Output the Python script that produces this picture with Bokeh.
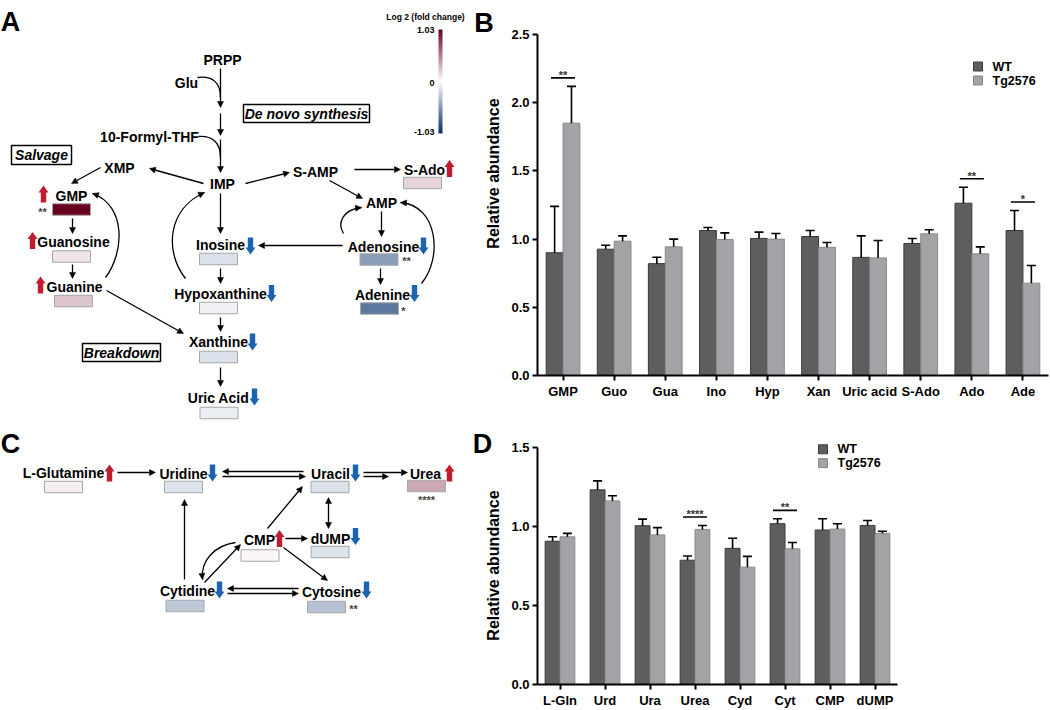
import numpy as np
from bokeh.plotting import figure
from bokeh.layouts import row, column
from bokeh.models import (ColumnDataSource, Range1d, Arrow, NormalHead, FixedTicker,
                          NumeralTickFormatter, LinearColorMapper, ColorBar)
from bokeh.transform import dodge
from bokeh.core.properties import value
from bokeh.embed import file_html
from bokeh.resources import INLINE

# ---------------- data ----------------
purine_cats = ["GMP", "Guo", "Gua", "Ino", "Hyp", "Xan", "Uric acid", "S-Ado", "Ado", "Ade"]
purine_wt = [0.90, 0.926, 0.82, 1.063, 1.005, 1.019, 0.866, 0.968, 1.263, 1.063]
purine_wt_err = [1.24, 0.955, 0.867, 1.085, 1.051, 1.063, 1.024, 1.004, 1.38, 1.21]
purine_tg = [1.85, 0.985, 0.943, 0.997, 1.0, 0.94, 0.862, 1.039, 0.892, 0.677]
purine_tg_err = [2.12, 1.024, 1.0, 1.046, 1.041, 0.975, 0.99, 1.068, 0.943, 0.806]
purine_sig_cats = ["GMP", "Ado", "Ade"]
purine_sig_marks = ["**", "**", "*"]
# log2 fold change (Tg2576 / WT) shown by the pathway boxes, same order as purine_cats
purine_log2fc = [1.03, 0.11, 0.24, -0.145, -0.072, -0.15, -0.082, 0.17, -0.49, -0.67]

pyr_cats = ["L-Gln", "Urd", "Ura", "Urea", "Cyd", "Cyt", "CMP", "dUMP"]
pyr_wt = [0.906, 1.231, 1.004, 0.786, 0.861, 1.017, 0.977, 1.006]
pyr_wt_err = [0.934, 1.288, 1.046, 0.8125, 0.925, 1.048, 1.048, 1.0375]
pyr_tg = [0.934, 1.161, 0.946, 0.981, 0.742, 0.858, 0.983, 0.956]
pyr_tg_err = [0.956, 1.194, 0.992, 1.006, 0.81, 0.898, 1.017, 0.969]
pyr_sig_cats = ["Urea", "Cyt"]
pyr_sig_marks = ["****", "**"]
pyr_log2fc = [0.07, -0.14, -0.15, 0.35, -0.27, -0.30, 0.04, -0.14]

series_names = ["WT", "Tg2576"]
y_title = "Relative abundance"
FC_LIMIT = 1.03
colorbar_title = "Log 2 (fold change)"

# ---------------- styling ----------------
FONT = "Liberation Sans"
WT_FILL, WT_LINE = "#5e5e5e", "#3a3a3a"
TG_FILL, TG_LINE = "#a3a3a7", "#8a8a8a"
UP_COL, DOWN_COL = "#bf1d2d", "#1d63ae"


def make_palette(n=256):
    lo, mid, hi = (8, 48, 107), (255, 255, 255), (103, 0, 31)
    pal = []
    for i in range(n):
        t = i / (n - 1)
        a, b, s = (lo, mid, t / 0.5) if t < 0.5 else (mid, hi, (t - 0.5) / 0.5)
        c = tuple(int(round(a[k] + (b[k] - a[k]) * s)) for k in range(3))
        pal.append("#%02x%02x%02x" % c)
    return pal


mapper = LinearColorMapper(palette=make_palette(), low=-FC_LIMIT, high=FC_LIMIT)


# ---------------- diagram helpers ----------------
def diagram_fig(w, h, xr, yr):
    p = figure(width=w, height=h, x_range=Range1d(*xr), y_range=Range1d(*yr),
               output_backend="svg", toolbar_location=None,
               x_axis_location=None, y_axis_location=None, min_border=0)
    p.grid.visible = False
    p.outline_line_color = None
    return p


def texts(p, items, size="14px", style="bold", color="black", align="center",
          baseline="middle", y_offset=0, angle=0.0):
    src = ColumnDataSource(dict(t=[i[0] for i in items], x=[i[1] for i in items],
                                y=[i[2] for i in items]))
    p.text(x="x", y="y", text="t", source=src, text_font=value(FONT),
           text_font_size=size, text_font_style=style, text_color=color,
           text_align=align, text_baseline=baseline, y_offset=y_offset, angle=angle)


def head():
    return NormalHead(size=6, fill_color="black", line_color="black", line_width=0.5)


def arrows(p, segs, double=False):
    for x0, y0, x1, y1 in segs:
        p.add_layout(Arrow(end=head(), start=head() if double else None,
                           x_start=x0, y_start=y0, x_end=x1, y_end=y1,
                           line_width=1.3, line_color="black"))


def curves(p, segs, with_head=True):
    for (x0, y0, cx0, cy0, cx1, cy1, x1, y1) in segs:
        p.bezier(x0=[x0], y0=[y0], cx0=[cx0], cy0=[cy0], cx1=[cx1], cy1=[cy1],
                 x1=[x1], y1=[y1], line_width=1.3, line_color="black")
        if with_head:
            p.add_layout(Arrow(end=head(), x_start=x1 - (x1 - cx1) * 0.08,
                               y_start=y1 - (y1 - cy1) * 0.08, x_end=x1, y_end=y1,
                               line_width=1.3, line_color="black"))


def boxed(p, items):
    p.quad(left=[i[1] for i in items], right=[i[3] for i in items],
           top=[i[2] for i in items], bottom=[i[4] for i in items],
           fill_color="white", line_color="black", line_width=1.5)
    texts(p, [(i[0], (i[1] + i[3]) / 2, (i[2] + i[4]) / 2) for i in items],
          style="bold italic")


def nodes(p, layout, cats, log2fc, sig_cats, sig_marks, star_pos):
    fc = dict(zip(cats, log2fc))
    src = ColumnDataSource(dict(
        label=[n[1] for n in layout], lx=[n[2] for n in layout], ly=[n[3] for n in layout],
        bx=[n[4] for n in layout], by=[n[5] for n in layout],
        fc=[float(fc[n[0]]) for n in layout]))
    p.rect(x="bx", y="by", width=38, height=11.5, source=src,
           fill_color={"field": "fc", "transform": mapper},
           line_color="#a6a6a6", line_width=1)
    p.text(x="lx", y="ly", text="label", source=src, text_font=value(FONT),
           text_font_size="14px", text_font_style="bold", text_align="center",
           text_baseline="middle")
    xs, ys, cols = [], [], []
    hl, hw, sw, half = 7.0, 5.0, 2.7, 8.5
    for n in layout:
        cx, cy = n[6], n[7]
        up = fc[n[0]] > 0
        tip, base = (cy - half, cy + half) if up else (cy + half, cy - half)
        neck = tip + (hl if up else -hl)
        xs.append([cx, cx + hw, cx + sw, cx + sw, cx - sw, cx - sw, cx - hw])
        ys.append([tip, neck, neck, base, base, neck, neck])
        cols.append(UP_COL if up else DOWN_COL)
    p.patches(xs, ys, fill_color=cols, line_color=None)
    marks = dict(zip(sig_cats, sig_marks))
    texts(p, [(marks[c], star_pos[c][0], star_pos[c][1]) for c in star_pos],
          size="11px", color="#444444", baseline="alphabetic", y_offset=2)


# ---------------- panel A (+ letter / y title of B) ----------------
pA = diagram_fig(503, 420, (0, 503), (420, 0))
texts(pA, [("A", 10, 21), ("B", 483.5, 22)], size="27px", baseline="alphabetic")
texts(pA, [(y_title, 493, 173)], size="16px", angle=np.pi / 2)
texts(pA, [("PRPP", 222, 59), ("Glu", 186, 82), ("10-Formyl-THF", 149, 136),
           ("XMP", 119, 167), ("IMP", 222, 183), ("S-AMP", 315, 171), ("AMP", 381, 202)])
boxed(pA, [("De novo synthesis", 243, 104, 369, 122), ("Salvage", 11, 145, 71, 164),
           ("Breakdown", 82, 343, 160, 361)])
arrows(pA, [(220, 68, 220, 107), (220, 113, 220, 135), (220, 139, 220, 172),
            (203, 183, 149, 168), (100, 167, 71, 183), (72, 218, 72, 233),
            (72, 264, 72, 278), (106, 290, 183, 333), (245, 183, 289, 172),
            (354, 169, 400, 169), (329, 180, 362, 198), (220, 193, 220, 233),
            (342, 245, 258, 245), (220, 268, 220, 283), (220, 317, 220, 331),
            (220, 367, 220, 386), (381, 211, 381, 236), (380, 268, 380, 284)])
curves(pA, [(197, 77, 212, 75, 220, 82, 220, 97), (198, 136, 212, 135, 220, 142, 220, 157)],
       with_head=False)
curves(pA, [(105, 277, 124, 252, 126, 205, 92, 193), (185, 278, 163, 250, 168, 208, 204, 192),
            (343, 233, 336, 222, 343, 209, 361, 207), (421, 283, 442, 258, 438, 205, 400, 202)])
A_LAYOUT = [
    ("GMP", "GMP", 71, 195, 71, 209, 43, 193.5),
    ("Guo", "Guanosine", 73, 241, 71, 256, 32, 240),
    ("Gua", "Guanine", 74, 286, 73, 300.5, 40, 284.5),
    ("Ino", "Inosine", 220, 244, 218, 258.5, 250, 245.5),
    ("Hyp", "Hypoxanthine", 220, 293, 218, 307.5, 271, 293),
    ("Xan", "Xanthine", 218, 341, 218, 356.5, 252, 341.5),
    ("Uric acid", "Uric Acid", 218, 397, 218.5, 412.5, 254, 396.5),
    ("S-Ado", "S-Ado", 424, 169, 422, 182.5, 449, 168),
    ("Ado", "Adenosine", 383, 246, 378.5, 259, 423, 245.5),
    ("Ade", "Adenine", 382, 294, 379, 308, 414, 293),
]
nodes(pA, A_LAYOUT, purine_cats, purine_log2fc, purine_sig_cats, purine_sig_marks,
      {"GMP": (42, 209), "Ado": (406, 258), "Ade": (403, 308)})
pA.add_layout(ColorBar(color_mapper=mapper, orientation="vertical",
                       location=(438, 287), width=4, height=104, padding=0, margin=0,
                       ticker=FixedTicker(ticks=[]), major_label_text_alpha=0,
                       major_tick_line_color=None, minor_tick_line_color=None,
                       bar_line_color=None, border_line_color=None,
                       background_fill_alpha=0, title=None))
texts(pA, [(colorbar_title, 425, 16)], size="8.5px")
texts(pA, [(f"{FC_LIMIT:.2f}", 434, 29), ("0", 434, 82), (f"{-FC_LIMIT:.2f}", 434, 131)],
      size="9px", align="right")

# ---------------- panel C (+ letter / y title of D) ----------------
pC = diagram_fig(503, 290, (0, 503), (710, 420))
texts(pC, [("C", 10, 443), ("D", 482, 443)], size="27px", baseline="alphabetic")
texts(pC, [(y_title, 493, 565)], size="16px", angle=np.pi / 2)
arrows(pC, [(117, 472, 155, 472), (303, 471, 222, 471), (222, 476, 305, 476),
            (363, 472, 407, 472), (363, 476, 388, 476), (285, 538, 307, 538),
            (267, 528, 302, 486), (283, 547, 327, 580), (204, 582, 240, 544),
            (184, 579, 184, 499), (298, 588, 227, 588), (227, 593, 298, 593)])
arrows(pC, [(328, 497, 328, 528)], double=True)
curves(pC, [(235, 542, 214, 545, 200, 560, 202, 579)])
C_LAYOUT = [
    ("L-Gln", "L-Glutamine", 63, 472, 63, 486.5, 109, 472.5),
    ("Urd", "Uridine", 183, 473, 183, 486.5, 212, 472.5),
    ("Ura", "Uracil", 330, 473, 329.5, 486.5, 355, 472.5),
    ("Urea", "Urea", 425, 473, 426, 485.5, 449, 472.5),
    ("CMP", "CMP", 259, 539, 259.5, 555, 279, 538),
    ("dUMP", "dUMP", 330, 538, 329.5, 551.5, 355, 536),
    ("Cyd", "Cytidine", 187, 590, 184.5, 605.5, 219, 589.5),
    ("Cyt", "Cytosine", 331, 591, 326, 606.5, 366, 589.5),
]
nodes(pC, C_LAYOUT, pyr_cats, pyr_log2fc, pyr_sig_cats, pyr_sig_marks,
      {"Urea": (426, 497), "Cyt": (353, 606)})


# ---------------- bar panels ----------------
def bar_panel(cats, wt, wt_err, tg, tg_err, sig_cats, sig_marks, y_top, y_end, ticks,
              width, height, borders, px_cat, legend_px):
    bl, br, bt, bb = borders
    frame_w, frame_h = width - bl - br, height - bt - bb
    n = len(cats)
    p = figure(x_range=Range1d(0, frame_w / px_cat), y_range=Range1d(0, y_end),
               width=width, height=height, output_backend="svg", toolbar_location=None,
               min_border_left=bl, min_border_right=br, min_border_top=bt,
               min_border_bottom=bb)
    px_y = frame_h / y_end
    pos = [i + 0.5 for i in range(n)]
    bw = 0.33
    src = ColumnDataSource(dict(x=pos, cat=list(cats), wt=wt, wt_err=wt_err, tg=tg,
                                tg_err=tg_err))
    p.vbar(x=dodge("x", -bw / 2), top="wt", width=bw, source=src,
           fill_color=WT_FILL, line_color=WT_LINE, line_width=1)
    p.vbar(x=dodge("x", bw / 2), top="tg", width=bw, source=src,
           fill_color=TG_FILL, line_color=TG_LINE, line_width=1)
    cap = 4.5 / px_cat
    for off, lo, hi in ((-bw / 2, "wt", "wt_err"), (bw / 2, "tg", "tg_err")):
        p.segment(x0=dodge("x", off), y0=lo, x1=dodge("x", off), y1=hi, source=src,
                  line_color="black", line_width=1.6)
        p.segment(x0=dodge("x", off - cap), y0=hi, x1=dodge("x", off + cap), y1=hi,
                  source=src, line_color="black", line_width=1.6)
    idx = [list(cats).index(c) for c in sig_cats]
    ssrc = ColumnDataSource(dict(
        x=[pos[i] for i in idx],
        y=[max(wt_err[i], tg_err[i]) + 8.5 / px_y for i in idx],
        mark=list(sig_marks)))
    half = 12 / px_cat
    p.segment(x0=dodge("x", -half), y0="y", x1=dodge("x", half), y1="y", source=ssrc,
              line_color="black", line_width=1.6)
    p.text(x="x", y="y", text="mark", source=ssrc, text_font=value(FONT),
           text_font_size="11px", text_font_style="bold", text_color="#333333",
           text_align="center", text_baseline="alphabetic", y_offset=-3)

    # legend drawn as glyphs inside the frame
    lx = legend_px[0] / px_cat
    ly0 = y_top - legend_px[1] / px_y
    ly1 = y_top - (legend_px[1] + 14) / px_y
    p.scatter(x=[lx, lx], y=[ly0, ly1], marker="square", size=9,
              fill_color=[WT_FILL, TG_FILL], line_color=[WT_LINE, TG_LINE], line_width=1)
    p.text(x=[lx + 14.5 / px_cat] * 2, y=[ly0, ly1], text=series_names,
           text_font=value(FONT), text_font_size="12.5px", text_font_style="bold",
           text_align="left", text_baseline="middle")

    p.grid.visible = False
    p.outline_line_color = None
    for ax in (p.xaxis[0], p.yaxis[0]):
        ax.axis_line_width = 2
        ax.axis_line_color = "black"
        ax.major_tick_line_width = 2
        ax.major_tick_out = 5
        ax.major_tick_in = 0
        ax.minor_tick_line_color = None
        ax.major_label_text_font = FONT
        ax.major_label_text_font_style = "bold"
        ax.major_label_text_font_size = "13px"
        ax.major_label_text_color = "black"
        ax.major_label_standoff = 3
    p.xaxis.ticker = FixedTicker(ticks=pos)
    p.xaxis.major_label_overrides = {x: c for x, c in zip(pos, cats)}
    p.xaxis.bounds = (0, n)
    p.yaxis.ticker = FixedTicker(ticks=ticks)
    p.yaxis.formatter = NumeralTickFormatter(format="0.0")
    p.yaxis.bounds = (0, y_top)
    return p


pB = bar_panel(purine_cats, purine_wt, purine_wt_err, purine_tg, purine_tg_err,
               purine_sig_cats, purine_sig_marks, 2.5, 2.5, [0, 0.5, 1.0, 1.5, 2.0, 2.5],
               547, 420, (34, 2, 34, 45), 51.1, (440.5, 32))
pD = bar_panel(pyr_cats, pyr_wt, pyr_wt_err, pyr_tg, pyr_tg_err,
               pyr_sig_cats, pyr_sig_marks, 1.5, 1.6, [0, 0.5, 1.0, 1.5],
               547, 290, (34, 2, 11, 23), 45.0, (285.5, 2))

layout = row(column(pA, pC), column(pB, pD))
open("out.html", "w").write(file_html(layout, INLINE))
